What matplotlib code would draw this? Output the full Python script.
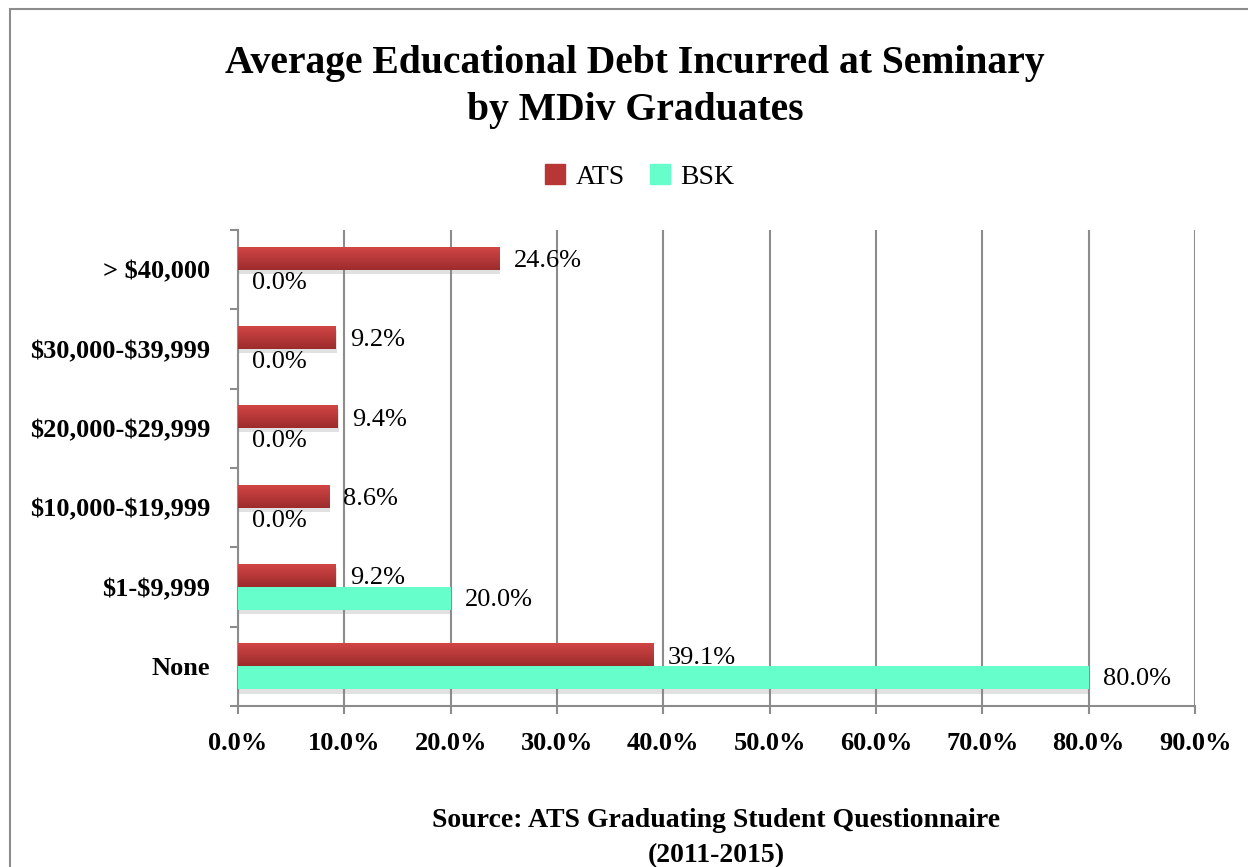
"""Average educational debt at seminary, ATS vs BSK, horizontal bars."""

from matplotlib import pyplot as plt
from matplotlib import patheffects
from matplotlib.patches import Patch, Rectangle
from matplotlib.colors import LinearSegmentedColormap
import numpy as np

# %% data
categories = ['None', '$1-$9,999', '$10,000-$19,999',
              '$20,000-$29,999', '$30,000-$39,999', '> $40,000']
ats_pct = [39.1, 9.2, 8.6, 9.4, 9.2, 24.6]
bsk_pct = [80.0, 20.0, 0.0, 0.0, 0.0, 0.0]
x_ticks = np.arange(0, 100, 10)

# %% style
plt.rcParams['font.family'] = ['Liberation Serif', 'DejaVu Serif']
plt.rcParams['text.parse_math'] = False
RED = '#c03a3a'
MINT = '#66ffcc'
GRID = '#8c8c8c'
BAR_H = 0.29

fig = plt.figure(figsize=(12.48, 8.67), dpi=100)
ax = fig.add_axes([238/1248, 1-706/867, (1195-238)/1248, (706-230)/867])

# outer chart border (right/bottom edge fall outside the picture)
fig.patches.append(Rectangle((10/1248, -0.2), 1.2, 1.2 - 9/867,
                             transform=fig.transFigure, fill=False,
                             edgecolor=GRID, lw=1.5))

y = np.arange(len(categories))
shadow = [patheffects.withSimplePatchShadow(offset=(0.5, -3),
                                            shadow_rgbFace='#888888',
                                            alpha=0.25),
          patheffects.Normal()]

bars_ats = ax.barh(y + BAR_H/2, ats_pct, height=BAR_H, color=RED,
                   zorder=3, path_effects=shadow)
bars_bsk = ax.barh(y - BAR_H/2, bsk_pct, height=BAR_H, color=MINT,
                   zorder=3, path_effects=shadow)

# vertical gradient on the red bars, light on top, dark at the bottom
grad = np.linspace(0, 1, 64).reshape(-1, 1)
red_cmap = LinearSegmentedColormap.from_list('r', ['#9c2c2c', '#d44646'])
for b in bars_ats:
    x0, y0 = b.get_x(), b.get_y()
    w, h = b.get_width(), b.get_height()
    im = ax.imshow(grad, cmap=red_cmap, aspect='auto', zorder=3.5,
                   extent=(x0, x0 + w, y0, y0 + h), origin='lower')
    im.set_clip_path(b)

for b, v in zip(bars_ats, ats_pct):
    ax.annotate(f'{v:.1f}%', (v, b.get_y() + b.get_height()/2),
                xytext=(10, -2), textcoords='offset points',
                va='center', ha='left', fontsize=19, zorder=5)
for b, v in zip(bars_bsk, bsk_pct):
    ax.annotate(f'{v:.1f}%', (v, b.get_y() + b.get_height()/2),
                xytext=(10, -1), textcoords='offset points',
                va='center', ha='left', fontsize=19, zorder=5)

ax.set_xlim(0, 90)
ax.set_ylim(-0.5, len(categories) - 0.5)
ax.set_xticks(x_ticks)
ax.set_xticklabels([f'{t:.1f}%' for t in x_ticks], fontsize=19,
                   fontweight='bold')
ax.set_yticks(y)
ax.set_yticklabels(categories, fontsize=19, fontweight='bold')
ax.set_yticks(np.arange(-0.5, len(categories), 1), minor=True)
ax.tick_params(axis='y', which='major', length=0, pad=20)
ax.tick_params(axis='y', which='minor', length=6, width=1.5, color=GRID)
ax.tick_params(axis='x', length=6, width=1.5, color=GRID, pad=13)

ax.grid(axis='x', color=GRID, lw=1.5, zorder=0)
ax.set_axisbelow(True)
for s in ['top', 'right']:
    ax.spines[s].set_visible(False)
for s in ['left', 'bottom']:
    ax.spines[s].set_color(GRID)
    ax.spines[s].set_linewidth(1.5)

ax.set_xlabel('Source: ATS Graduating Student Questionnaire\n(2011-2015)',
              fontsize=20, fontweight='bold', labelpad=38, linespacing=1.5)

fig.text(635/1248, 1-87/867,
         'Average Educational Debt Incurred at Seminary\nby MDiv Graduates',
         ha='center', va='center', fontsize=28.5, fontweight='bold',
         linespacing=1.35)

handles = [Patch(color='#b83636', label='ATS'),
           Patch(color=MINT, label='BSK')]
fig.legend(handles=handles, loc='center', bbox_to_anchor=(640/1248, 1-177/867),
           ncol=2, frameon=False, fontsize=20, handlelength=0.7,
           handleheight=0.7, handletextpad=0.4, columnspacing=0.9)

fig.savefig('out.png', dpi=100)
